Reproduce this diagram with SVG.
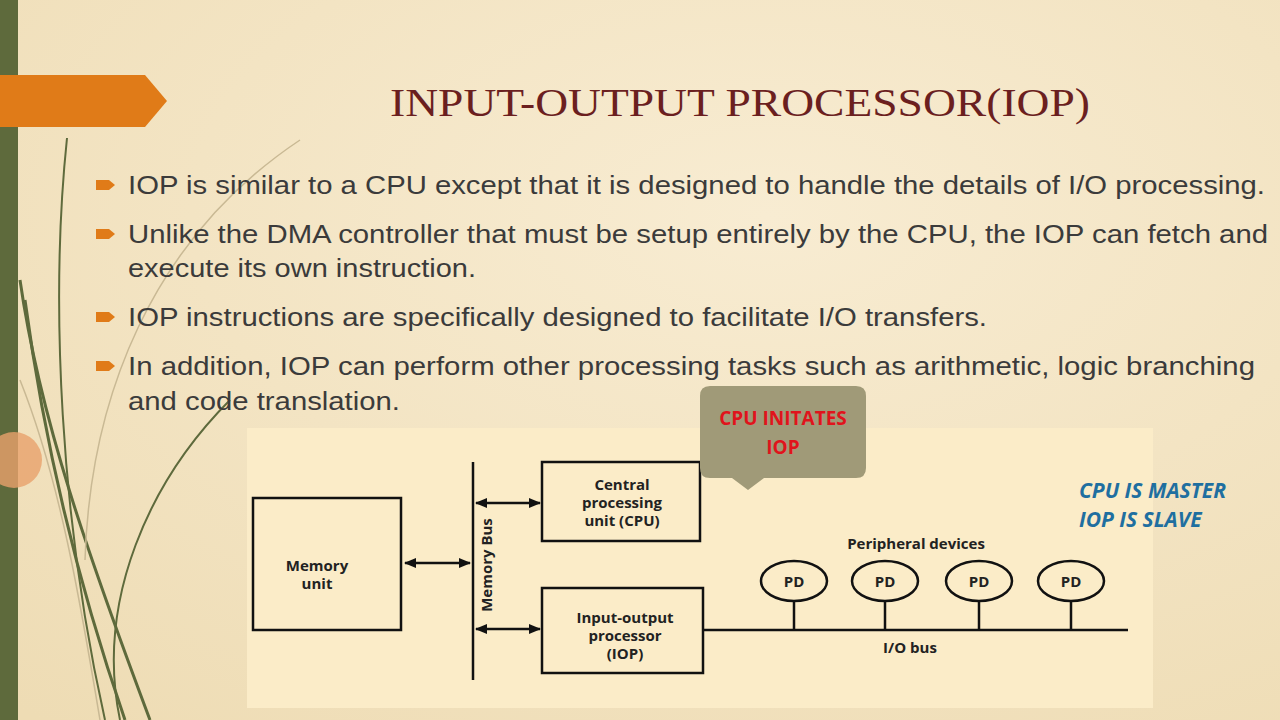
<svg xmlns="http://www.w3.org/2000/svg" width="1280" height="720" viewBox="0 0 1280 720">
<defs>
<radialGradient id="bg" cx="0.6" cy="0.3" r="0.9"><stop offset="0" stop-color="#f8ecd2"/><stop offset="1" stop-color="#eedcb4"/></radialGradient>
<marker id="ah" viewBox="0 0 10 10" refX="9" refY="5" markerWidth="5" markerHeight="5" orient="auto-start-reverse"><path d="M0,1 L10,5 L0,9 Z" fill="#111"/></marker>
<style>
.b{font-family:"Liberation Sans",Arial,sans-serif;font-size:25px;fill:#3b3b3b}
.d{font-family:"Open Sans","DejaVu Sans",sans-serif;font-weight:bold;font-size:15px;fill:#222;text-anchor:middle}
.box{fill:none;stroke:#111;stroke-width:2.5}
.ln{stroke:#111;stroke-width:2.5;fill:none}
.bul{fill:#e07b18}
.m{font-family:"Open Sans","DejaVu Sans",sans-serif;font-weight:bold;font-style:italic;font-size:21px;fill:#1f6fa0}
</style>
</defs>
<rect width="1280" height="720" fill="url(#bg)"/>
<rect x="0" y="0" width="18" height="720" fill="#5e6a3c"/>
<g fill="none" stroke="#5e6a3c" stroke-width="3">
<path d="M20,280 C40,420 90,560 150,720"/>
<path d="M25,300 C45,450 80,590 125,720"/>
<path d="M67,138 C50,300 60,520 105,720" stroke-width="2"/>
<path d="M230,400 C150,480 95,600 120,720" stroke-width="2"/>
</g>
<g fill="none" stroke="#c9b994" stroke-width="1.5">
<path d="M300,140 C150,240 90,400 85,560"/>
<path d="M20,380 C60,480 80,600 100,720"/>
</g>
<circle cx="14" cy="460" r="28" fill="#e9a16c" opacity="0.8"/>
<path d="M0,75 H145 L167,101 L145,127 H0 Z" fill="#e07b18"/>
<text x="390" y="116" textLength="700" lengthAdjust="spacingAndGlyphs" font-family="Liberation Serif,serif" font-size="40" fill="#6b1f1f">INPUT-OUTPUT PROCESSOR(IOP)</text>
<g>
<path class="bul" d="M96,180 H109 L115,185 L109,190 H96 Z"/>
<path class="bul" d="M96,229 H109 L115,234 L109,239 H96 Z"/>
<path class="bul" d="M96,312 H109 L115,317 L109,322 H96 Z"/>
<path class="bul" d="M96,361 H109 L115,366 L109,371 H96 Z"/>
<text class="b" x="128" y="194" textLength="1137" lengthAdjust="spacingAndGlyphs">IOP is similar to a CPU except that it is designed to handle the details of I/O processing.</text>
<text class="b" x="128" y="243" textLength="1140" lengthAdjust="spacingAndGlyphs">Unlike the DMA controller that must be setup entirely by the CPU, the IOP can fetch and</text>
<text class="b" x="128" y="277" textLength="348" lengthAdjust="spacingAndGlyphs">execute its own instruction.</text>
<text class="b" x="128" y="326" textLength="859" lengthAdjust="spacingAndGlyphs">IOP instructions are specifically designed to facilitate I/O transfers.</text>
<text class="b" x="128" y="375" textLength="1127" lengthAdjust="spacingAndGlyphs">In addition, IOP can perform other processing tasks such as arithmetic, logic branching</text>
<text class="b" x="128" y="410" textLength="272" lengthAdjust="spacingAndGlyphs">and code translation.</text>
</g>
<rect x="247" y="428" width="906" height="280" fill="#fbecc8"/>
<g id="connectors">
<line class="ln" x1="473" y1="462" x2="473" y2="680"/>
<line class="ln" x1="405" y1="563" x2="470" y2="563" marker-start="url(#ah)" marker-end="url(#ah)"/>
<line class="ln" x1="476" y1="503" x2="540" y2="503" marker-start="url(#ah)" marker-end="url(#ah)"/>
<line class="ln" x1="476" y1="629" x2="540" y2="629" marker-start="url(#ah)" marker-end="url(#ah)"/>
<line class="ln" x1="703" y1="630" x2="1128" y2="630"/>
<line class="ln" x1="794" y1="601" x2="794" y2="630"/>
<line class="ln" x1="885" y1="601" x2="885" y2="630"/>
<line class="ln" x1="979" y1="601" x2="979" y2="630"/>
<line class="ln" x1="1071" y1="601" x2="1071" y2="630"/>
</g>
<text class="d" transform="translate(492,565) rotate(-90)">Memory Bus</text>
<g id="memory"><rect class="box" x="253" y="498" width="148" height="132"/><text class="d" x="317" y="571">Memory</text><text class="d" x="317" y="589">unit</text></g>
<g id="cpu"><rect class="box" x="542" y="462" width="158" height="79"/><text class="d" x="622" y="490">Central</text><text class="d" x="622" y="508">processing</text><text class="d" x="622" y="526">unit (CPU)</text></g>
<g id="iop"><rect class="box" x="542" y="588" width="161" height="85"/><text class="d" x="625" y="623">Input-output</text><text class="d" x="625" y="641">processor</text><text class="d" x="625" y="659">(IOP)</text></g>
<text class="d" x="916" y="549">Peripheral devices</text>
<g id="pd1"><ellipse class="box" cx="794" cy="581" rx="33" ry="20"/><text class="d" x="794" y="587">PD</text></g>
<g id="pd2"><ellipse class="box" cx="885" cy="581" rx="33" ry="20"/><text class="d" x="885" y="587">PD</text></g>
<g id="pd3"><ellipse class="box" cx="979" cy="581" rx="33" ry="20"/><text class="d" x="979" y="587">PD</text></g>
<g id="pd4"><ellipse class="box" cx="1071" cy="581" rx="33" ry="20"/><text class="d" x="1071" y="587">PD</text></g>
<text class="d" x="910" y="653">I/O bus</text>
<g id="callout">
<path d="M710,386 H856 Q866,386 866,396 V468 Q866,478 856,478 H764 L748,490 L732,478 H710 Q700,478 700,468 V396 Q700,386 710,386 Z" fill="#a09a78"/>
<text x="783" y="425" text-anchor="middle" font-family="Open Sans,DejaVu Sans,sans-serif" font-weight="bold" font-size="19" fill="#e0141c">CPU INITATES</text>
<text x="783" y="454" text-anchor="middle" font-family="Open Sans,DejaVu Sans,sans-serif" font-weight="bold" font-size="19" fill="#e0141c">IOP</text>
</g>
<text class="m" x="1079" y="498">CPU IS MASTER</text>
<text class="m" x="1079" y="527">IOP IS SLAVE</text>
</svg>
